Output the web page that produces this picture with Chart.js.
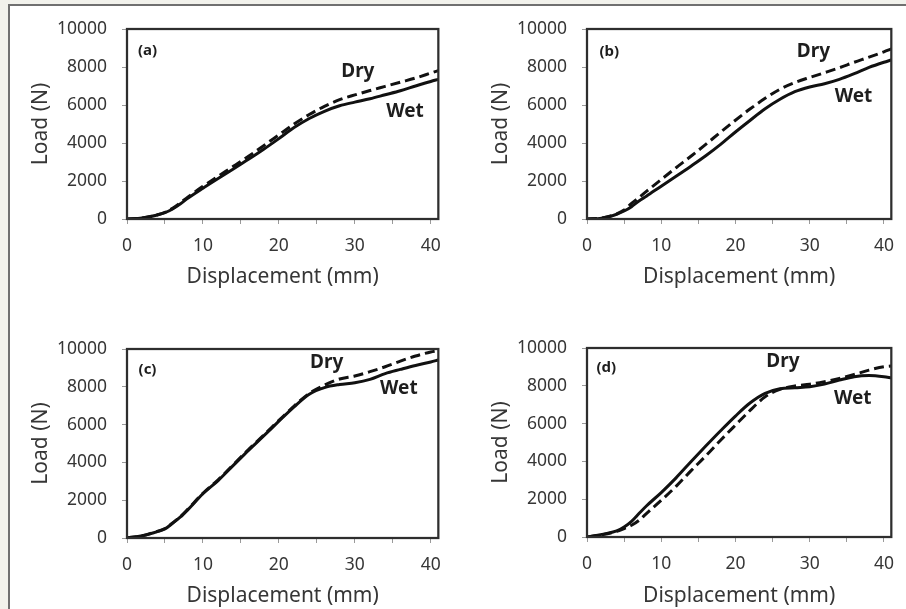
<!DOCTYPE html>
<html>
<head>
<meta charset="utf-8">
<script src="https://cdn.jsdelivr.net/npm/chart.js@4.4.1/dist/chart.umd.min.js"></script>
<style>
  html, body { margin: 0; padding: 0; }
  body { width: 906px; height: 609px; background: #f2f2ec; position: relative; overflow: hidden; }
  #sheet { position: absolute; left: 8px; top: 4px; right: 0; bottom: 0; background: #fff;
           border-top: 2px solid #707070; border-left: 2px solid #707070; }
  canvas { position: absolute; }
</style>
</head>
<body>
<div id="sheet"></div>
<canvas id="chartA" style="left:0px;top:0px"></canvas>
<canvas id="chartB" style="left:460px;top:0px"></canvas>
<canvas id="chartC" style="left:0px;top:300px"></canvas>
<canvas id="chartD" style="left:460px;top:300px"></canvas>
<script>
// displacement (mm) sample points shared by all curves
const displacement = [0, 2, 4, 5, 6, 7, 8, 10, 12, 14, 16, 18, 20, 22, 24, 26, 28, 30, 32, 34, 36, 38, 40, 41];

// load (N)
const dryA = [0, 50, 220, 350, 560, 840, 1150, 1720, 2250, 2770, 3300, 3860, 4430, 5000, 5500, 5930, 6280, 6530, 6760, 6980, 7200, 7420, 7680, 7810];
const wetA = [0, 50, 210, 330, 530, 790, 1090, 1620, 2130, 2630, 3140, 3670, 4230, 4810, 5290, 5670, 5960, 6150, 6330, 6540, 6750, 7000, 7240, 7350];

const dryB = [0, 50, 270, 470, 820, 1130, 1450, 2080, 2700, 3300, 3930, 4570, 5200, 5800, 6350, 6830, 7180, 7450, 7700, 7960, 8250, 8520, 8800, 8950];
const wetB = [0, 40, 250, 420, 650, 950, 1200, 1730, 2250, 2780, 3330, 3930, 4580, 5200, 5800, 6300, 6700, 6950, 7120, 7350, 7650, 7980, 8250, 8370];

const dryC = [0, 120, 350, 500, 800, 1120, 1520, 2370, 3080, 3880, 4680, 5440, 6220, 6980, 7650, 8090, 8410, 8570, 8800, 9060, 9360, 9630, 9840, 9910];
const wetC = [0, 120, 340, 480, 780, 1100, 1490, 2340, 3040, 3840, 4640, 5400, 6180, 6940, 7610, 7960, 8120, 8210, 8390, 8700, 8920, 9130, 9310, 9420];

const dryD = [0, 120, 300, 450, 620, 880, 1240, 1940, 2680, 3500, 4290, 5120, 5920, 6710, 7420, 7810, 7990, 8080, 8220, 8390, 8600, 8830, 9010, 9050];
const wetD = [0, 140, 320, 530, 830, 1240, 1640, 2350, 3130, 3980, 4810, 5620, 6400, 7100, 7600, 7840, 7900, 7950, 8090, 8300, 8480, 8540, 8480, 8420];

// axis ticks
const xTicks = [0, 10, 20, 30, 40];
const yTicks = [0, 2000, 4000, 6000, 8000, 10000];

const xTitle = "Displacement (mm)";
const yTitle = "Load (N)";

// where the in-plot labels sit, in data units [mm, N]
const tagA = ["(a)", 2.7, 8840], dryLabelA = [30.4, 7740], wetLabelA = [36.6, 5630];
const tagB = ["(b)", 3.0, 8790], dryLabelB = [30.5, 8790], wetLabelB = [35.9, 6420];
const tagC = ["(c)", 2.7, 8890], dryLabelC = [26.3, 9260], wetLabelC = [35.8, 7880];
const tagD = ["(d)", 2.6, 8940], dryLabelD = [26.4, 9260], wetLabelD = [35.8, 7300];

const FONT = "'Noto Sans', 'Open Sans', sans-serif";
const TEXT = "#363636";

const framePlugin = {
  id: "frame",
  afterDatasetsDraw(chart) {
    const { ctx, chartArea: a } = chart;
    ctx.save();
    ctx.strokeStyle = "#2e2e2e";
    ctx.lineWidth = 2.25;
    ctx.strokeRect(a.left, a.top, a.right - a.left, a.bottom - a.top);
    ctx.restore();
  },
};

const notesPlugin = {
  id: "notes",
  afterDatasetsDraw(chart, args, opts) {
    const { ctx, scales } = chart;
    ctx.save();
    ctx.fillStyle = "#1e1e1e";
    ctx.textAlign = "center";
    ctx.textBaseline = "middle";
    opts.items.forEach((n) => {
      ctx.font = `bold ${n.size}px ${FONT}`;
      ctx.fillText(n.text, scales.x.getPixelForValue(n.at[0]), scales.y.getPixelForValue(n.at[1]));
    });
    ctx.restore();
  },
};

function toPoints(ys) {
  return displacement.map((x, i) => ({ x, y: ys[i] }));
}

function makePanel(id, dry, wet, tag, dryAt, wetAt, box) {
  const canvas = document.getElementById(id);
  canvas.width = box.w;
  canvas.height = box.h;
  canvas.style.width = box.w + "px";
  canvas.style.height = box.h + "px";

  return new Chart(canvas, {
    type: "line",
    data: {
      datasets: [
        {
          label: "Dry",
          data: toPoints(dry),
          borderColor: "#111",
          borderWidth: 3,
          borderDash: [10, 5],
          pointRadius: 0,
          cubicInterpolationMode: "monotone",
        },
        {
          label: "Wet",
          data: toPoints(wet),
          borderColor: "#111",
          borderWidth: 3,
          pointRadius: 0,
          cubicInterpolationMode: "monotone",
        },
      ],
    },
    options: {
      responsive: false,
      animation: false,
      events: [],
      layout: { padding: { left: 0, top: box.top, right: box.right, bottom: 0 } },
      plugins: {
        legend: { display: false },
        tooltip: { enabled: false },
        notes: {
          items: [
            { text: tag[0], at: [tag[1], tag[2]], size: 15 },
            { text: "Dry", at: dryAt, size: 19 },
            { text: "Wet", at: wetAt, size: 19 },
          ],
        },
      },
      scales: {
        x: {
          type: "linear",
          min: 0,
          max: 41,
          afterFit: (scale) => { scale.height = box.xh; },
          afterBuildTicks: (scale) => {
            const t = [];
            for (let v = 0; v <= xTicks[xTicks.length - 1]; v += 5) t.push({ value: v });
            scale.ticks = t;
          },
          ticks: {
            autoSkip: false,
            maxRotation: 0,
            padding: 12,
            color: TEXT,
            font: { family: FONT, size: 17.5 },
            callback: (v) => (xTicks.includes(v) ? String(v) : ""),
          },
          grid: { drawOnChartArea: false, drawTicks: true, tickLength: 5, tickColor: "#9a9a9a" },
          border: { display: false },
          title: {
            display: true,
            text: xTitle,
            color: TEXT,
            font: { family: FONT, size: 21 },
            padding: { top: 0, bottom: box.titleBottom },
          },
        },
        y: {
          type: "linear",
          min: yTicks[0],
          max: yTicks[yTicks.length - 1],
          afterFit: (scale) => { scale.width = 127; },
          afterBuildTicks: (scale) => { scale.ticks = yTicks.map((v) => ({ value: v })); },
          ticks: {
            padding: 15,
            color: TEXT,
            font: { family: FONT, size: 17.5 },
            callback: (v) => String(v),
          },
          grid: { drawOnChartArea: false, drawTicks: true, tickLength: 5, tickColor: "#9a9a9a" },
          border: { display: false },
          title: {
            display: true,
            text: yTitle,
            color: TEXT,
            font: { family: FONT, size: 21 },
            padding: { top: 28, bottom: 0 },
          },
        },
      },
    },
    plugins: [framePlugin, notesPlugin],
  });
}

makePanel("chartA", dryA, wetA, tagA, dryLabelA, wetLabelA, { w: 453, h: 300, top: 29, right: 10, xh: 81, titleBottom: 10 });
makePanel("chartB", dryB, wetB, tagB, dryLabelB, wetLabelB, { w: 446, h: 300, top: 29, right: 4, xh: 81, titleBottom: 10 });
makePanel("chartC", dryC, wetC, tagC, dryLabelC, wetLabelC, { w: 453, h: 309, top: 49, right: 10, xh: 71, titleBottom: 0 });
makePanel("chartD", dryD, wetD, tagD, dryLabelD, wetLabelD, { w: 446, h: 309, top: 48, right: 4, xh: 72, titleBottom: 0 });
</script>
</body>
</html>
